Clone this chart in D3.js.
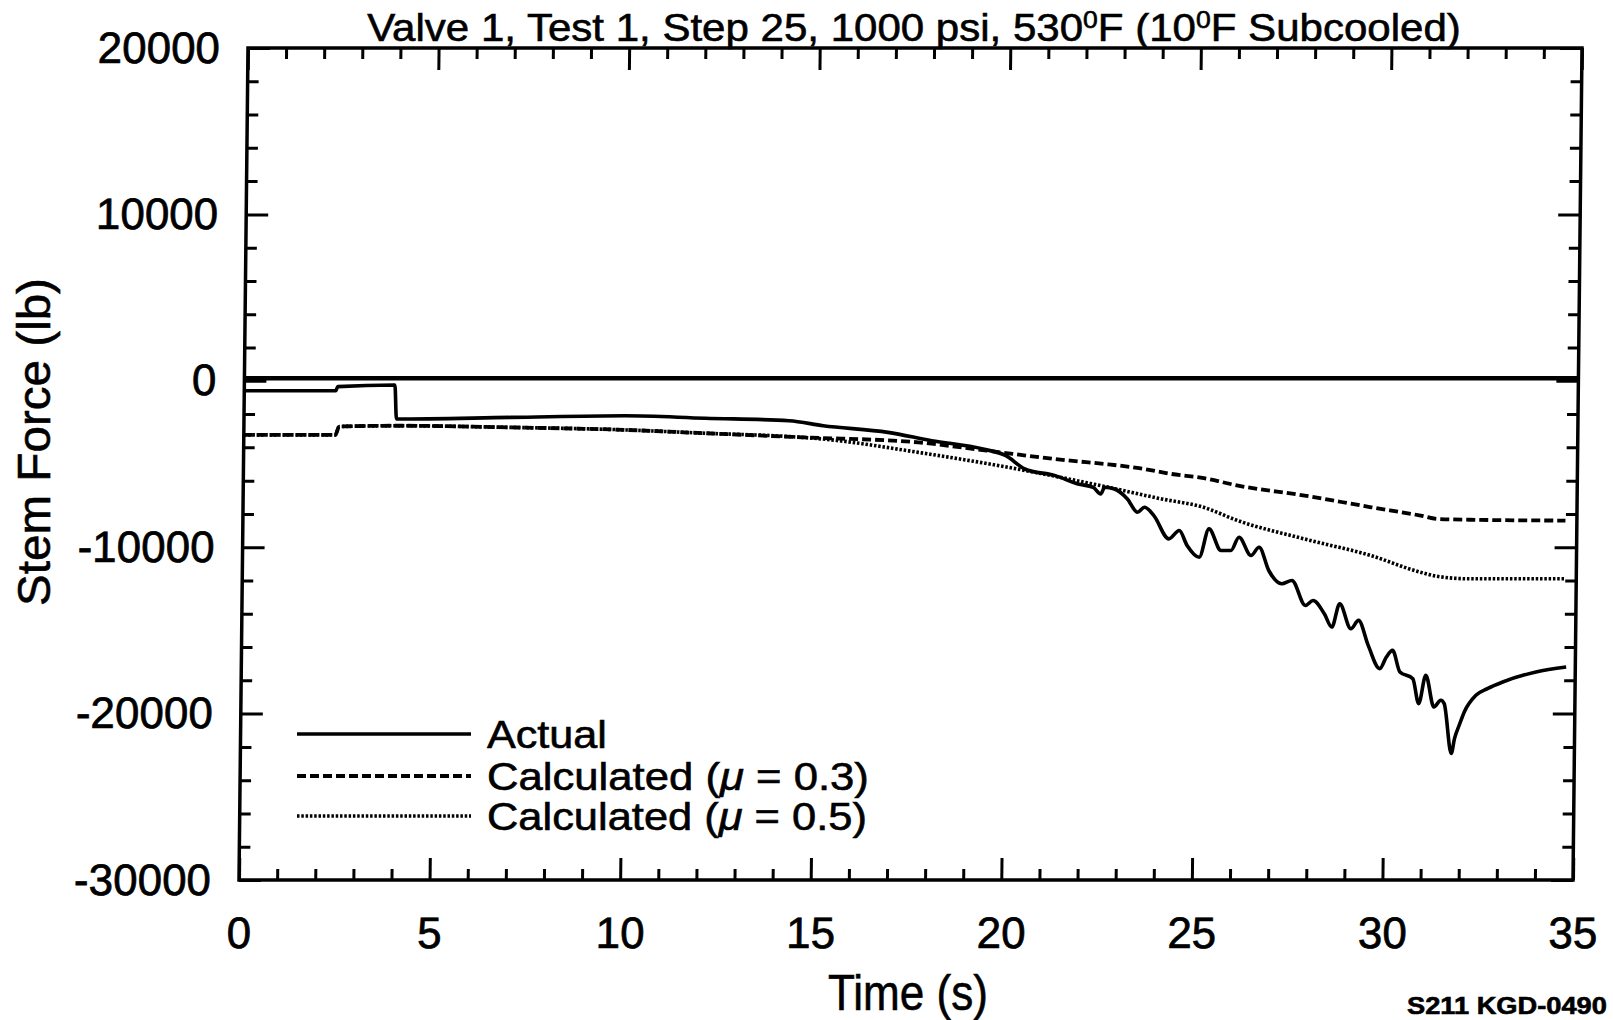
<!DOCTYPE html>
<html><head><meta charset="utf-8">
<script src="https://cdn.jsdelivr.net/npm/d3@7"></script>
<style>
body{margin:0;background:#fff}
text{font-family:"Liberation Sans",Arial,Helvetica,sans-serif;fill:#000}
</style>
</head><body>
<svg id="c" width="1613" height="1020"></svg>
<script>
// ---------- data ----------
const xMajorTicks = [0, 5, 10, 15, 20, 25, 30, 35];
const xTickLabels = ["0", "5", "10", "15", "20", "25", "30", "35"];
const yMajorTicks = [20000, 10000, 0, -10000, -20000, -30000];
const yTickLabels = ["20000", "10000", "0", "-10000", "-20000", "-30000"];

const actualT = [0, 2.4, 2.45, 3.95, 4.0, 7, 10, 12.1, 14.3, 15.2, 16.9, 18.05, 19.4, 20.0, 20.5, 21.3, 21.9, 22.3, 22.5, 22.6, 22.86, 23.2, 23.47, 23.65, 23.9, 24.3, 24.57, 24.78, 25.1, 25.35, 25.67, 25.93, 26.14, 26.46, 26.67, 26.93, 27.27, 27.54, 27.9, 28.1, 28.4, 28.6, 28.8, 29.1, 29.3, 29.56, 29.87, 30.04, 30.2, 30.4, 30.74, 30.9, 31.08, 31.3, 31.48, 31.57, 31.77, 31.85, 31.97, 32.1, 32.4, 32.7, 33.1, 33.97, 34.76];
const actualV = [-600, -600, -350, -250, -2300, -2200, -2100, -2250, -2400, -2700, -3100, -3600, -4100, -4500, -5300, -5700, -6200, -6400, -6800, -6400, -6500, -7100, -7900, -7600, -8100, -9500, -9000, -9900, -10600, -8900, -10200, -10200, -9400, -10500, -10000, -11400, -12200, -12000, -13500, -13200, -14000, -14800, -13400, -14900, -14400, -15900, -17300, -16600, -16200, -17500, -17900, -19400, -17700, -19600, -19200, -19400, -22400, -21500, -20700, -19900, -18900, -18500, -18100, -17500, -17200];

const mu03T = [0, 2.4, 2.5, 4, 7, 10, 12.1, 14.7, 17.7, 19.5, 21.7, 22.6, 23.5, 24.35, 25.2, 26.1, 27.85, 29.6, 30.9, 31.35, 32.2, 34.7];
const mu03V = [-3250, -3250, -2750, -2700, -2800, -2950, -3150, -3400, -3700, -4200, -4800, -5000, -5250, -5600, -5850, -6300, -6900, -7600, -8100, -8300, -8350, -8400];

const mu05T = [0, 2.4, 2.5, 4, 7, 10, 12.1, 14.3, 15.2, 17.7, 20.3, 22.6, 24.1, 25.2, 26.1, 27.85, 29.6, 30.9, 31.35, 32.2, 34.7];
const mu05V = [-3250, -3250, -2750, -2700, -2800, -2950, -3150, -3350, -3500, -4300, -5300, -6350, -7100, -7600, -8400, -9500, -10500, -11500, -11750, -11900, -11900];

const zeroT = [0, 35];
const zeroV = [150, 150];

const legendLabels = ["Actual", "Calculated (", "Calculated ("];
const legendMu = ["", "\u03bc", "\u03bc"];
const legendTail = ["", " = 0.3)", " = 0.5)"];

const titleText1 = "Valve 1, Test 1, Step 25, 1000 psi, 530";
const titleText2 = "F (10";
const titleText3 = "F Subcooled)";
const degSym = "0";
const xLabel = "Time (s)";
const yLabel = "Stem Force (lb)";
const figId = "S211 KGD-0490";

// ---------- layout ----------
const svg = d3.select("#c");
const W = 1334, H = 832;
const x = d3.scaleLinear().domain([0, 35]).range([0, W]);
const y = d3.scaleLinear().domain([-30000, 20000]).range([H, 0]);
const skewDeg = Math.atan(9 / H) * 180 / Math.PI;
const g = svg.append("g").attr("transform", `translate(239,880) skewX(${-skewDeg}) translate(0,${-H})`);

function styleAxis(sel, fs) {
  sel.select(".domain").remove();
  sel.selectAll(".tick line").attr("stroke", "#000").attr("stroke-width", 3);
  sel.attr("font-family", '"Liberation Sans",Arial,sans-serif').attr("font-size", fs);
  sel.selectAll(".tick text").attr("fill", "#000").attr("stroke", "#000").attr("stroke-width", 0.7);
}

const xMinor = x.ticks(35).filter(d => d % 5 !== 0);
const yMinor = y.ticks(25).filter(d => d % 10000 !== 0);

// bottom
g.append("g").attr("transform", `translate(0,${H})`)
  .call(d3.axisBottom(x).tickValues(xMajorTicks).tickSize(-22).tickPadding(37).tickFormat((d, i) => xTickLabels[i]))
  .call(s => styleAxis(s, 44));
g.append("g").attr("transform", `translate(0,${H})`)
  .call(d3.axisBottom(x).tickValues(xMinor).tickSize(-11).tickFormat(""))
  .call(s => styleAxis(s, 44));
// top
g.append("g").call(d3.axisTop(x).tickValues(xMajorTicks).tickSize(-22).tickFormat("")).call(s => styleAxis(s, 44));
g.append("g").call(d3.axisTop(x).tickValues(xMinor).tickSize(-11).tickFormat("")).call(s => styleAxis(s, 44));
// left
g.append("g")
  .call(d3.axisLeft(y).tickValues(yMajorTicks).tickSize(-22).tickPadding(28).tickFormat((d, i) => yTickLabels[i]))
  .call(s => styleAxis(s, 44));
g.append("g").call(d3.axisLeft(y).tickValues(yMinor).tickSize(-11).tickFormat("")).call(s => styleAxis(s, 44));
// right
g.append("g").attr("transform", `translate(${W},0)`)
  .call(d3.axisRight(y).tickValues(yMajorTicks).tickSize(-22).tickFormat("")).call(s => styleAxis(s, 44));
g.append("g").attr("transform", `translate(${W},0)`)
  .call(d3.axisRight(y).tickValues(yMinor).tickSize(-11).tickFormat("")).call(s => styleAxis(s, 44));

// frame
g.append("rect").attr("x", 0).attr("y", 0).attr("width", W).attr("height", H)
  .attr("fill", "none").attr("stroke", "#000").attr("stroke-width", 3.5);

// lines
function series(ts, vs) { return ts.map((t, i) => [t, vs[i]]); }
const lineLin = d3.line().x(d => x(d[0])).y(d => y(d[1]));
const lineSmooth = d3.line().x(d => x(d[0])).y(d => y(d[1])).curve(d3.curveMonotoneX);

g.append("path").datum(series(zeroT, zeroV)).attr("d", lineLin)
  .attr("fill", "none").attr("stroke", "#000").attr("stroke-width", 4.5);
g.append("path").datum(series(mu05T, mu05V)).attr("d", lineSmooth)
  .attr("fill", "none").attr("stroke", "#000").attr("stroke-width", 3.6).attr("stroke-dasharray", "2.5,1.8");
g.append("path").datum(series(mu03T, mu03V)).attr("d", lineSmooth)
  .attr("fill", "none").attr("stroke", "#000").attr("stroke-width", 3.8).attr("stroke-dasharray", "9,4");
g.append("path").datum(series(actualT, actualV)).attr("d", lineSmooth)
  .attr("fill", "none").attr("stroke", "#000").attr("stroke-width", 3.6).attr("stroke-linejoin", "round");

// ---------- text helpers ----------
function fitText(parent, tx, ty, rot, target, size, anchor, weight, build) {
  const gg = parent.append("g");
  const t = gg.append("text").attr("text-anchor", anchor).attr("font-size", size)
    .attr("font-weight", weight).attr("stroke", "#000").attr("stroke-width", 0.6);
  build(t);
  const w = t.node().getComputedTextLength();
  const k = target / w;
  gg.attr("transform", `translate(${tx},${ty}) rotate(${rot}) scale(${k},1)`);
  return t;
}

// title
fitText(svg, 914, 41, 0, 1094, 38, "middle", "normal", t => {
  t.append("tspan").text(titleText1);
  t.append("tspan").attr("font-size", 24).attr("dy", -13).text(degSym);
  t.append("tspan").attr("dy", 13).text(titleText2);
  t.append("tspan").attr("font-size", 24).attr("dy", -13).text(degSym);
  t.append("tspan").attr("dy", 13).text(titleText3);
});

// axis titles
fitText(svg, 908, 1010, 0, 160, 50, "middle", "normal", t => t.text(xLabel));
fitText(svg, 50, 442, -90, 328, 46, "middle", "normal", t => t.text(yLabel));

// legend
const legendY = [734, 776, 816];
const legendW = [120, 382, 380];
const legendDash = [null, "9,4", "2.5,1.8"];
const legendSW = [3.6, 3.8, 3.6];
legendY.forEach((ly, i) => {
  const ln = svg.append("line").attr("x1", 297).attr("x2", 471).attr("y1", ly).attr("y2", ly)
    .attr("stroke", "#000").attr("stroke-width", legendSW[i]);
  if (legendDash[i]) ln.attr("stroke-dasharray", legendDash[i]);
  fitText(svg, 487, ly + 14, 0, legendW[i], 38, "start", "normal", t => {
    t.append("tspan").text(legendLabels[i]);
    if (legendMu[i]) {
      t.append("tspan").attr("font-style", "italic").text(legendMu[i]);
      t.append("tspan").text(legendTail[i]);
    }
  });
});

// figure id
fitText(svg, 1407, 1014, 0, 200, 24, "start", "bold", t => t.text(figId));
</script>
</body></html>
